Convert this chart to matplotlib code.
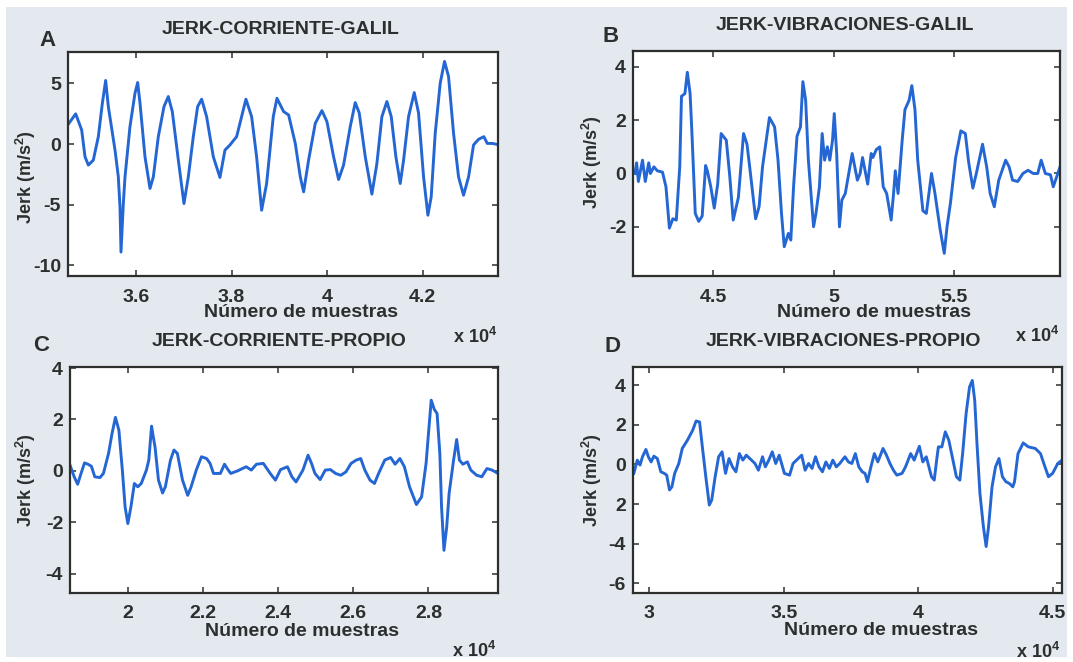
import matplotlib
matplotlib.use("Agg")
import matplotlib.pyplot as plt
from matplotlib.patches import Rectangle

# ---- data: sample index vs jerk (m/s^3) ----
corr_galil_x = [34571, 34738, 34863, 34933, 35003, 35107, 35212, 35296, 35365, 35421,
                35561, 35630, 35665, 35686, 35735, 35770, 35874, 35979, 36035, 36084,
                36188, 36293, 36363, 36467, 36586, 36676, 36760, 36886, 37004, 37095,
                37199, 37290, 37374, 37478, 37618, 37757, 37862, 37966, 38106, 38301,
                38420, 38524, 38629, 38734, 38873, 38950, 39089, 39194, 39333, 39438,
                39508, 39612, 39752, 39891, 39996, 40135, 40240, 40344, 40484, 40588,
                40672, 40798, 40937, 41042, 41146, 41251, 41342, 41439, 41530, 41600,
                41704, 41823, 41913, 42018, 42109, 42178, 42262, 42367, 42457, 42541,
                42646, 42750, 42855, 42960, 43064, 43169, 43280, 43351, 43460, 43576]
corr_galil_y = [1.57, 2.49, 1.16, -1.05, -1.74, -1.33, 0.61, 3.37, 5.25, 3.09,
                -0.5, -2.71, -5.19, -8.92, -4.92, -2.71, 1.44, 4.2, 5.08, 3.37,
                -1.05, -3.67, -2.71, 0.61, 3.09, 3.92, 2.68, -1.33, -4.92, -2.71,
                0.61, 3.09, 3.7, 2.26, -1.05, -2.76, -0.5, -0.08, 0.61, 3.7,
                2.26, -1.05, -5.47, -3.26, 2.26, 3.78, 2.68, 2.4, 0.06, -2.71,
                -3.95, -1.33, 1.71, 2.76, 1.85, -1.05, -2.93, -1.74, 1.44, 3.42,
                2.57, -1.05, -4.14, -1.6, 2.26, 3.51, 2.26, -1.05, -3.26, -1.33,
                2.26, 4.25, 2.57, -2.71, -5.88, -4.36, 0.88, 5.03, 6.82, 5.58,
                0.88, -2.71, -4.23, -2.71, -0.08, 0.39, 0.61, 0.05, 0.05, -0.05]

vib_galil_x = [41748, 41819, 41891, 42063, 42178, 42321, 42392, 42536, 42679, 42894,
               43037, 43180, 43324, 43467, 43610, 43682, 43825, 43925, 44040, 44112,
               44255, 44398, 44542, 44685, 44756, 44900, 45043, 45186, 45330, 45544,
               45688, 45831, 46046, 46261, 46404, 46547, 46762, 46906, 47049, 47335,
               47550, 47693, 47837, 47951, 48123, 48224, 48338, 48481, 48625, 48725,
               48840, 48954, 49083, 49169, 49269, 49413, 49527, 49628, 49742, 49843,
               49957, 50029, 50129, 50244, 50344, 50487, 50631, 50774, 50989, 51103,
               51204, 51418, 51562, 51633, 51777, 51920, 52063, 52206, 52393, 52493,
               52565, 52679, 52851, 52966, 53138, 53252, 53381, 53496, 53711, 53854,
               54069, 54212, 54427, 54599, 54714, 54857, 55072, 55287, 55473, 55616,
               55788, 55931, 56189, 56361, 56505, 56677, 56863, 57149, 57293, 57436,
               57651, 57866, 58081, 58295, 58482, 58625, 58797, 59012, 59126, 59298,
               59407]
vib_galil_y = [0.0, 0.4, -0.3, 0.5, -0.3, 0.4, 0.0, 0.25, 0.1, 0.05,
               -0.5, -2.05, -1.7, -1.75, 0.25, 2.9, 3.0, 3.8, 3.0, 1.6,
               -1.5, -1.8, -1.6, 0.3, 0.1, -0.5, -1.3, -0.4, 1.5, 1.25,
               -0.1, -1.75, -0.9, 1.5, 1.1, 0.0, -1.7, -1.25, 0.25, 2.1,
               1.75, 0.5, -1.5, -2.75, -2.25, -2.5, -0.5, 1.4, 1.75, 3.45,
               2.75, 0.5, -1.0, -2.0, -1.5, -0.5, 1.5, 0.5, 1.0, 0.5,
               1.25, 2.25, 0.75, -2.0, -1.0, -0.75, 0.0, 0.75, -0.25, 0.0,
               0.6, -0.4, 0.75, 0.6, 0.9, 1.0, -0.5, -0.75, -1.75, -0.75,
               0.1, -0.75, 1.25, 2.4, 2.75, 3.3, 2.4, 0.5, -1.4, -1.5,
               0.0, -0.75, -2.1, -3.0, -2.0, -1.1, 0.6, 1.6, 1.5, 0.4,
               -0.55, 0.0, 1.1, 0.25, -0.75, -1.25, -0.25, 0.5, 0.25, -0.25,
               -0.3, 0.0, 0.12, 0.0, 0.0, 0.5, 0.0, -0.05, -0.5, -0.05,
               0.25]

corr_propio_x = [18462, 18572, 18664, 18755, 18847, 18938, 19030, 19121, 19259, 19350,
                 19487, 19579, 19670, 19762, 19854, 19927, 20000, 20082, 20174, 20265,
                 20357, 20494, 20558, 20632, 20677, 20723, 20815, 20924, 20998, 21135,
                 21227, 21318, 21455, 21593, 21684, 21821, 21959, 22096, 22188, 22279,
                 22462, 22572, 22645, 22737, 22920, 23149, 23286, 23423, 23606, 23789,
                 23927, 24064, 24247, 24366, 24476, 24659, 24796, 24888, 24979, 25117,
                 25254, 25391, 25528, 25666, 25803, 25940, 26078, 26197, 26306, 26444,
                 26563, 26673, 26837, 26993, 27112, 27240, 27359, 27496, 27679, 27817,
                 27936, 28000, 28073, 28155, 28229, 28302, 28348, 28412, 28485, 28549,
                 28668, 28750, 28823, 28915, 29034, 29126, 29281, 29418, 29556, 29693,
                 29850]
corr_propio_y = [0.22, -0.23, -0.52, -0.1, 0.31, 0.26, 0.18, -0.23, -0.26, -0.1,
                 0.68, 1.45, 2.08, 1.58, 0.03, -1.4, -2.05, -1.4, -0.49, -0.62,
                 -0.49, 0.03, 0.42, 1.74, 1.32, 0.94, -0.36, -0.86, -0.62, 0.42,
                 0.81, 0.68, -0.36, -0.95, -0.62, 0.03, 0.55, 0.48, 0.29, -0.1,
                 -0.1, 0.26, 0.09, -0.1, 0.0, 0.16, 0.03, 0.26, 0.29, -0.1,
                 -0.36, 0.05, 0.16, -0.23, -0.43, 0.03, 0.61, 0.29, -0.1, -0.34,
                 0.03, 0.05, -0.1, -0.17, -0.04, 0.29, 0.42, 0.48, 0.03, -0.36,
                 -0.49, -0.1, 0.42, 0.52, 0.26, 0.48, 0.16, -0.62, -1.31, -1.01,
                 0.29, 1.45, 2.75, 2.39, 2.23, 0.68, -1.4, -3.09, -2.18, -0.88,
                 0.42, 1.22, 0.42, 0.26, 0.35, 0.03, -0.17, -0.23, 0.09, 0.03,
                 -0.1]

vib_propio_x = [29421, 29549, 29652, 29742, 29871, 29961, 30064, 30167, 30296, 30425,
                30554, 30644, 30747, 30837, 30940, 31094, 31223, 31416, 31610, 31738,
                31867, 31970, 32099, 32228, 32318, 32446, 32575, 32704, 32833, 32961,
                33090, 33219, 33348, 33477, 33605, 33798, 33927, 34056, 34210, 34313,
                34442, 34571, 34700, 34829, 35022, 35215, 35344, 35472, 35665, 35794,
                35923, 36052, 36180, 36309, 36438, 36567, 36696, 36824, 36953, 37082,
                37275, 37404, 37532, 37661, 37790, 37919, 38022, 38112, 38241, 38369,
                38498, 38691, 38820, 38949, 39078, 39206, 39399, 39528, 39721, 39850,
                40043, 40172, 40301, 40494, 40597, 40687, 40751, 40880, 41009, 41138,
                41267, 41421, 41550, 41653, 41782, 41910, 42013, 42103, 42194, 42297,
                42425, 42528, 42618, 42747, 42876, 43005, 43134, 43262, 43391, 43520,
                43584, 43713, 43906, 44099, 44357, 44550, 44717, 44846, 45000, 45194,
                45350]
vib_propio_y = [-0.45, 0.22, -0.03, 0.39, 0.76, 0.39, 0.13, 0.42, 0.3, -0.37,
                -0.45, -0.54, -1.29, -1.13, -0.45, 0.05, 0.81, 1.23, 1.73, 2.2,
                2.15, 0.89, -0.62, -2.05, -1.8, -0.62, 0.39, 0.64, -0.45, 0.3,
                -0.12, -0.37, 0.55, 0.22, 0.47, 0.22, 0.05, -0.29, 0.39, -0.12,
                0.22, 0.64, 0.05, 0.47, -0.45, -0.54, 0.05, 0.22, 0.47, -0.29,
                0.05, -0.2, 0.39, -0.12, -0.37, 0.13, -0.2, 0.22, -0.12, 0.05,
                0.39, 0.13, 0.05, 0.55, -0.12, -0.37, -0.45, -0.87, -0.12, 0.55,
                0.13, 0.81, 0.47, 0.05, -0.29, -0.54, -0.45, -0.12, 0.55, 0.22,
                0.92, 0.13, 0.39, -0.62, -0.79, 0.22, 0.89, 0.89, 1.65, 1.23,
                0.39, -0.62, -0.79, 0.55, 2.57, 3.92, 4.25, 3.24, 0.89, -1.46,
                -3.14, -4.15, -3.14, -1.13, -0.12, 0.3, -0.62, -0.87, -0.96, -1.13,
                -0.87, 0.55, 1.09, 0.89, 0.81, 0.55, -0.12, -0.62, -0.45, 0.05,
                0.22]

titles = ["JERK-CORRIENTE-GALIL", "JERK-VIBRACIONES-GALIL",
          "JERK-CORRIENTE-PROPIO", "JERK-VIBRACIONES-PROPIO"]
letters = ["A", "B", "C", "D"]

xticks_a = [36000, 38000, 40000, 42000]
xtick_labels_a = ["3.6", "3.8", "4", "4.2"]
yticks_a = [-10, -5, 0, 5]
ytick_labels_a = ["-10", "-5", "0", "5"]

xticks_b = [45000, 50000, 55000]
xtick_labels_b = ["4.5", "5", "5.5"]
yticks_b = [-2, 0, 2, 4]
ytick_labels_b = ["-2", "0", "2", "4"]

xticks_c = [20000, 22000, 24000, 26000, 28000]
xtick_labels_c = ["2", "2.2", "2.4", "2.6", "2.8"]
yticks_c = [-4, -2, 0, 2, 4]
ytick_labels_c = ["-4", "-2", "0", "2", "4"]

xticks_d = [30000, 35000, 40000, 45000]
xtick_labels_d = ["3", "3.5", "4", "4.5"]
yticks_d = [-6, -4, -2, 0, 2, 4]
ytick_labels_d = ["-6", "-4", "2", "0", "2", "4"]

xlabel = "Número de muestras"
ylabel = "Jerk (m/s$^2$)"
exponent = "x 10$^4$"

# ---- style ----
plt.rcParams["font.family"] = ["Liberation Sans", "DejaVu Sans"]
plt.rcParams["font.weight"] = "bold"
plt.rcParams["mathtext.fontset"] = "custom"
plt.rcParams["mathtext.rm"] = "Liberation Sans:bold"
plt.rcParams["mathtext.it"] = "Liberation Sans:bold"
plt.rcParams["mathtext.bf"] = "Liberation Sans:bold"

TXT = "#2b302e"
LINE = "#2466d4"
BG = "#e4e8ef"

W, H = 1073, 662
fig = plt.figure(figsize=(W / 100, H / 100), dpi=100, facecolor="white")
fig.add_artist(Rectangle((6 / W, 5 / H), (W - 12) / W, (H - 12) / H,
                         transform=fig.transFigure, facecolor=BG,
                         edgecolor="none", zorder=-5))


def px_box(left, top, right, bottom):
    return [left / W, 1 - bottom / H, (right - left) / W, (bottom - top) / H]


panels = [
    dict(box=px_box(68, 52, 498, 276), x=corr_galil_x, y=corr_galil_y,
         xlim=(34577, 43576), ylim=(-10.9, 7.6),
         xt=xticks_a, xtl=xtick_labels_a, yt=yticks_a, ytl=ytick_labels_a,
         title_xy=(0.495, 1.10), xlab_xy=(0.541, -0.165), ylab_xy=(-0.098, 0.44),
         letter_px=(47, 40), exp_px=(475, 337)),
    dict(box=px_box(633, 51, 1060, 276), x=vib_galil_x, y=vib_galil_y,
         xlim=(41668, 59407), ylim=(-3.85, 4.6),
         xt=xticks_b, xtl=xtick_labels_b, yt=yticks_b, ytl=ytick_labels_b,
         title_xy=(0.496, 1.115), xlab_xy=(0.564, -0.164), ylab_xy=(-0.095, 0.508),
         letter_px=(611, 37), exp_px=(1037, 336)),
    dict(box=px_box(70, 367, 498, 593), x=corr_propio_x, y=corr_propio_y,
         xlim=(18461, 29850), ylim=(-4.75, 4.04),
         xt=xticks_c, xtl=xtick_labels_c, yt=yticks_c, ytl=ytick_labels_c,
         title_xy=(0.489, 1.112), xlab_xy=(0.542, -0.171), ylab_xy=(-0.103, 0.5),
         letter_px=(41, 345), exp_px=(474, 651)),
    dict(box=px_box(633, 367, 1062, 593), x=vib_propio_x, y=vib_propio_y,
         xlim=(29390, 45350), ylim=(-6.5, 4.93),
         xt=xticks_d, xtl=xtick_labels_d, yt=yticks_d, ytl=ytick_labels_d,
         title_xy=(0.49, 1.112), xlab_xy=(0.579, -0.164), ylab_xy=(-0.095, 0.5),
         letter_px=(613, 347), exp_px=(1038, 652)),
]

for p, title, letter in zip(panels, titles, letters):
    ax = fig.add_axes(p["box"])
    ax.set_facecolor("white")
    ax.plot(p["x"], p["y"], color=LINE, lw=2.1, solid_joinstyle="round")
    ax.set_xlim(*p["xlim"])
    ax.set_ylim(*p["ylim"])
    ax.set_xticks(p["xt"])
    ax.set_xticklabels(p["xtl"])
    ax.set_yticks(p["yt"])
    ax.set_yticklabels(p["ytl"])
    ax.tick_params(direction="in", length=4, width=1.1, top=True, right=True,
                   labelsize=14, colors=TXT, pad=5)
    ax.tick_params(axis="x", pad=9)
    for s in ax.spines.values():
        s.set_color("#2d2f2d")
        s.set_linewidth(1.6)

    ax.text(*p["title_xy"], title, transform=ax.transAxes, ha="center",
            va="center", fontsize=14, color=TXT, fontweight="bold")
    ax.set_xlabel(xlabel, fontsize=14, color=TXT, fontweight="bold")
    ax.xaxis.set_label_coords(*p["xlab_xy"])
    ax.xaxis.label.set_va("center")
    ax.set_ylabel(ylabel, fontsize=13, color=TXT, fontweight="bold")
    ax.yaxis.set_label_coords(*p["ylab_xy"])
    ax.yaxis.label.set_va("center")

    lx, ly = p["letter_px"]
    fig.text(lx / W, 1 - ly / H, letter, ha="center", va="center",
             fontsize=16, color=TXT, fontweight="bold")
    ex, ey = p["exp_px"]
    fig.text(ex / W, 1 - ey / H, exponent, ha="center", va="center",
             fontsize=13, color=TXT, fontweight="bold")

fig.savefig("out.png", dpi=100, facecolor="white")
